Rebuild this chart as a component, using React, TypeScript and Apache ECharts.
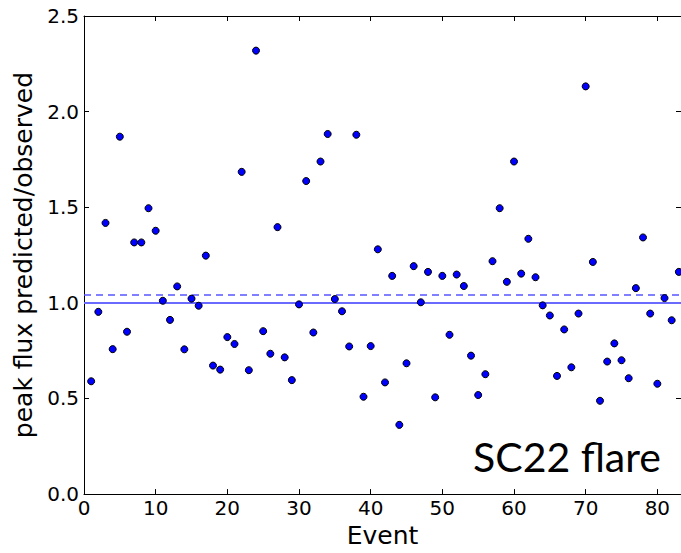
import React, { useEffect, useRef } from "react";
import * as echarts from "echarts";

const events: number[] = [
  1, 2, 3, 4, 5, 6, 7, 8, 9, 10, 11, 12, 13, 14, 15, 16, 17, 18, 19, 20, 21, 22, 23, 24, 25, 26, 27, 28, 29, 30,
  31, 32, 33, 34, 35, 36, 37, 38, 39, 40, 41, 42, 43, 44, 45, 46, 47, 48, 49, 50, 51, 52, 53, 54, 55, 56, 57, 58, 59, 60,
  61, 62, 63, 64, 65, 66, 67, 68, 69, 70, 71, 72, 73, 74, 75, 76, 77, 78, 79, 80, 81, 82, 83,
];

const ratios: number[] = [
  0.59, 0.953, 1.418, 0.758, 1.869, 0.849, 1.316, 1.316, 1.495, 1.377,
  1.011, 0.911, 1.086, 0.757, 1.022, 0.985, 1.247, 0.672, 0.651, 0.821,
  0.785, 1.685, 0.648, 2.319, 0.852, 0.734, 1.396, 0.715, 0.596, 0.992,
  1.637, 0.845, 1.739, 1.883, 1.02, 0.956, 0.772, 1.879, 0.509, 0.774,
  1.28, 0.584, 1.141, 0.362, 0.684, 1.192, 1.003, 1.162, 0.506, 1.141,
  0.833, 1.148, 1.088, 0.724, 0.518, 0.627, 1.218, 1.495, 1.11, 1.739,
  1.153, 1.335, 1.134, 0.987, 0.934, 0.618, 0.861, 0.663, 0.944, 2.132,
  1.214, 0.488, 0.693, 0.788, 0.7, 0.606, 1.077, 1.342, 0.944, 0.577,
  1.025, 0.909, 1.162,
];

const referenceLine = 1.0;
const meanLine = 1.037;

const xTicks = [0, 10, 20, 30, 40, 50, 60, 70, 80];
const yTickLabels = ["0.0", "0.5", "1.0", "1.5", "2.0", "2.5"];

export default function App() {
  const ref = useRef<HTMLDivElement>(null);

  useEffect(() => {
    if (!ref.current) return;
    const chart = echarts.init(ref.current, undefined, { renderer: "svg" });
    const font = "DejaVu Sans";
    const data = events.map((e, i) => [e, ratios[i]]);
    chart.setOption({
      animation: false,
      backgroundColor: "#ffffff",
      grid: { left: 84, top: 16, right: 0, bottom: 55, containLabel: false },
      xAxis: [
        {
          type: "value",
          min: 0,
          max: 83.3,
          interval: 10,
          name: "Event",
          nameLocation: "middle",
          nameGap: 25,
          nameTextStyle: { fontFamily: font, fontSize: 25, color: "#000" },
          axisLine: { show: true, onZero: false, lineStyle: { color: "#000", width: 1 } },
          axisTick: { show: true, inside: true, length: 5, lineStyle: { color: "#000" } },
          splitLine: { show: false },
          axisLabel: {
            fontFamily: font,
            fontSize: 20,
            color: "#000",
            margin: 4,
            showMaxLabel: false,
            formatter: (v: number) => (xTicks.includes(v) ? String(v) : ""),
          },
        },
        {
          type: "value",
          position: "top",
          min: 0,
          max: 83.3,
          interval: 10,
          axisLine: { show: true, onZero: false, lineStyle: { color: "#000", width: 1 } },
          axisTick: { show: true, inside: true, length: 5, lineStyle: { color: "#000" } },
          axisLabel: { show: false },
          splitLine: { show: false },
        },
      ],
      yAxis: [
        {
          type: "value",
          min: 0,
          max: 2.5,
          interval: 0.5,
          name: "peak flux predicted/observed",
          nameLocation: "middle",
          nameGap: 40,
          nameTextStyle: { fontFamily: font, fontSize: 25, color: "#000" },
          axisLine: { show: true, onZero: false, lineStyle: { color: "#000", width: 1 } },
          axisTick: { show: true, inside: true, length: 5, lineStyle: { color: "#000" } },
          splitLine: { show: false },
          axisLabel: {
            fontFamily: font,
            fontSize: 20,
            color: "#000",
            margin: 5,
            formatter: (v: number) => yTickLabels[Math.round(v / 0.5)] ?? "",
          },
        },
        {
          type: "value",
          position: "right",
          min: 0,
          max: 2.5,
          interval: 0.5,
          axisLine: { show: true, onZero: false, lineStyle: { color: "#000", width: 1 } },
          axisTick: { show: true, inside: true, length: 5, lineStyle: { color: "#000" } },
          axisLabel: { show: false },
          splitLine: { show: false },
        },
      ],
      series: [
        {
          type: "scatter",
          xAxisIndex: 0,
          yAxisIndex: 0,
          data,
          symbol: "circle",
          symbolSize: 7,
          itemStyle: { color: "#0000ff", borderColor: "#000", borderWidth: 1, opacity: 1 },
          z: 5,
          markLine: {
            silent: true,
            symbol: "none",
            label: { show: false },
            data: [
              { yAxis: referenceLine, lineStyle: { color: "#6a6aff", width: 2, type: "solid" } },
              { yAxis: meanLine, lineStyle: { color: "#5555ff", width: 1.5, type: [7, 5] } },
            ],
          },
        },
      ],
      graphic: [
        {
          type: "text",
          left: 473,
          top: 436,
          style: {
            text: "SC22 flare",
            fontFamily: "Lato",
            fontSize: 41,
            fill: "#000",
          },
        },
      ],
    });
    return () => chart.dispose();
  }, []);

  return (
    <div
      ref={ref}
      style={{ position: "fixed", left: 0, top: 0, width: 681, height: 553 }}
    />
  );
}
